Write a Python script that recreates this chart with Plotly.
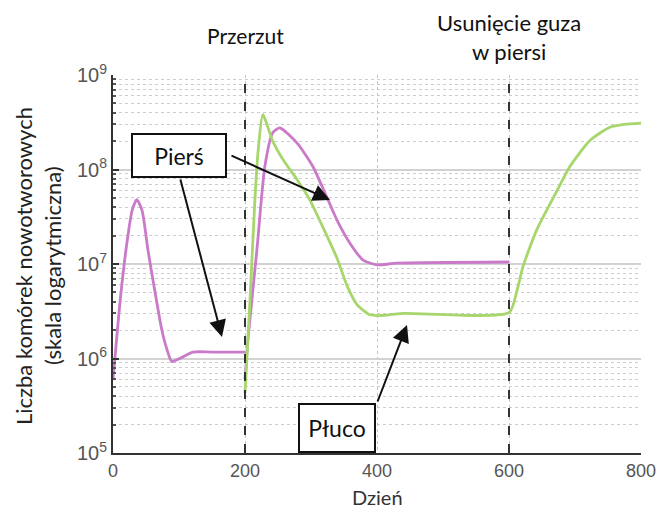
import plotly.graph_objects as go

# Tumour cell counts (log scale) over time, breast and lung
breast_days_a = [0, 11, 21, 29, 36, 44, 53, 64, 74, 82, 89, 101, 121, 150, 200]
breast_cells_a = [5.9e5, 4.2e6, 1.66e7, 3.7e7, 4.8e7, 3.7e7, 1.4e7, 4.9e6, 2.0e6, 1.23e6,
                  9.3e5, 1.0e6, 1.17e6, 1.17e6, 1.17e6]

breast_days_b = [200, 204.5, 218, 230, 242, 253, 279, 303, 324, 339, 359, 379, 400, 430, 600]
breast_cells_b = [6.0e5, 1.6e6, 1.4e7, 1.07e8, 2.45e8, 2.75e8, 1.9e8, 1.07e8, 5.1e7, 2.95e7,
                  1.66e7, 1.1e7, 9.8e6, 1.02e7, 1.05e7]

lung_days = [200, 207.6, 215, 220, 227, 242, 258, 279, 298, 318, 339, 355, 370, 389, 405, 439,
             600, 612, 621, 642, 673, 692, 723, 753, 775, 800]
lung_cells = [4.3e5, 4.2e6, 4.8e7, 1.6e8, 3.8e8, 2.0e8, 1.26e8, 7.8e7, 4.8e7, 2.45e7, 1.17e7,
              5.8e6, 3.7e6, 2.9e6, 2.85e6, 3.0e6, 3.05e6, 5.2e6, 9.3e6, 2.3e7, 6.0e7, 1.07e8,
              2.04e8, 2.8e8, 3.0e8, 3.1e8]

event_days = [200, 600]
x_ticks = [0, 200, 400, 600, 800]
y_exponents = [5, 6, 7, 8, 9]

PINK = "#c97ac9"
GREEN = "#a6d66c"
TEXT_FONT = "Lato, 'Open Sans', sans-serif"
TICK_FONT = "'Liberation Sans', Arial, sans-serif"

fig = go.Figure()

breast_x = breast_days_a + [None] + breast_days_b
breast_y = breast_cells_a + [None] + breast_cells_b

fig.add_trace(go.Scatter(x=breast_x, y=breast_y, mode="lines", name="Pierś",
                         line=dict(color=PINK, width=2.8, shape="spline", smoothing=0.6),
                         connectgaps=False))
fig.add_trace(go.Scatter(x=lung_days, y=lung_cells, mode="lines", name="Płuco",
                         line=dict(color=GREEN, width=2.8, shape="spline", smoothing=0.6)))

for d in event_days:
    fig.add_shape(type="line", xref="x", yref="paper", x0=d, x1=d, y0=0, y1=1,
                  line=dict(color="#333333", width=2, dash="dash"), layer="above")

minor_vals = [m * 10 ** e for e in range(5, 9) for m in range(2, 10)]

fig.update_layout(
    width=659, height=512,
    margin=dict(l=113, r=18, t=75, b=59),
    paper_bgcolor="white", plot_bgcolor="white",
    showlegend=False,
    xaxis=dict(
        range=[0, 800], tickmode="array", tickvals=x_ticks,
        ticktext=[str(v) for v in x_ticks], automargin=False,
        showline=True, linecolor="#333333", linewidth=2,
        ticks="", showgrid=True, gridcolor="#c4c4c4", gridwidth=1, griddash="dot",
        zeroline=False,
        tickfont=dict(family=TICK_FONT, size=18, color="#555555"),
    ),
    yaxis=dict(
        type="log", range=[5, 9], tickmode="array", automargin=False,
        tickvals=[10 ** e for e in y_exponents],
        ticktext=[f"10<sup>{e}</sup>" for e in y_exponents],
        showline=True, linecolor="#333333", linewidth=2,
        ticks="inside", ticklen=6, tickcolor="#333333", tickwidth=1.5,
        showgrid=True, gridcolor="#d2d2d2", gridwidth=2,
        zeroline=False,
        tickfont=dict(family=TICK_FONT, size=20, color="#555555"),
        minor=dict(tickmode="array", tickvals=minor_vals, ticks="inside", ticklen=3,
                   tickcolor="#555555", showgrid=True, gridcolor="#cdcdcd",
                   gridwidth=1, griddash="dot"),
    ),
)

# Axis titles
fig.add_annotation(text="Liczba komórek nowotworowych", xref="paper", yref="paper",
                   x=(23 - 113) / 528, y=(453 - 266) / 378, textangle=-90,
                   showarrow=False, xanchor="center", yanchor="middle",
                   font=dict(family=TEXT_FONT, size=22, color="#222222"))
fig.add_annotation(text="(skala logarytmiczna)", xref="paper", yref="paper",
                   x=(52 - 113) / 528, y=(453 - 266) / 378, textangle=-90,
                   showarrow=False, xanchor="center", yanchor="middle",
                   font=dict(family=TEXT_FONT, size=22, color="#222222"))
fig.add_annotation(text="Dzień", xref="paper", yref="paper",
                   x=(377 - 113) / 528, y=(453 - 497) / 378,
                   showarrow=False, xanchor="center", yanchor="middle",
                   font=dict(family=TEXT_FONT, size=20, color="#333333"))

# Event labels above the plot
fig.add_annotation(text="Przerzut", xref="x", yref="paper", x=event_days[0],
                   y=(453 - 36) / 378, showarrow=False, xanchor="center", yanchor="middle",
                   font=dict(family=TEXT_FONT, size=21, color="#111111"))
fig.add_annotation(text="Usunięcie guza<br>w piersi", xref="x", yref="paper", x=event_days[1],
                   y=(453 - 37) / 378, showarrow=False, xanchor="center", yanchor="middle",
                   font=dict(family=TEXT_FONT, size=22, color="#111111"))

# Labelled boxes
fig.add_annotation(text="Pierś", xref="paper", yref="paper",
                   x=(179 - 113) / 528, y=(453 - 155.5) / 378, showarrow=False,
                   xanchor="center", yanchor="middle", width=88, height=37,
                   bgcolor="white", bordercolor="#111111", borderwidth=2, borderpad=2,
                   font=dict(family=TEXT_FONT, size=23, color="#111111"))
fig.add_annotation(text="Płuco", xref="paper", yref="paper",
                   x=(337 - 113) / 528, y=(453 - 427.5) / 378, showarrow=False,
                   xanchor="center", yanchor="middle", width=70, height=42,
                   bgcolor="white", bordercolor="#111111", borderwidth=2, borderpad=2,
                   font=dict(family=TEXT_FONT, size=23, color="#111111"))

# Pointer arrows (tip position, start offset in pixels)
arrows = [
    ((330, 200), (-100, -45)),
    ((222, 337), (-42, -159)),
    ((407, 325), (-30, 78)),
]
for (tx, ty), (ax, ay) in arrows:
    fig.add_annotation(text="", xref="paper", yref="paper",
                       x=(tx - 113) / 528, y=(453 - ty) / 378,
                       ax=ax, ay=ay, axref="pixel", ayref="pixel",
                       showarrow=True, arrowhead=2, arrowsize=1.7, arrowwidth=2,
                       arrowcolor="#111111")

fig.write_html("out.html")
